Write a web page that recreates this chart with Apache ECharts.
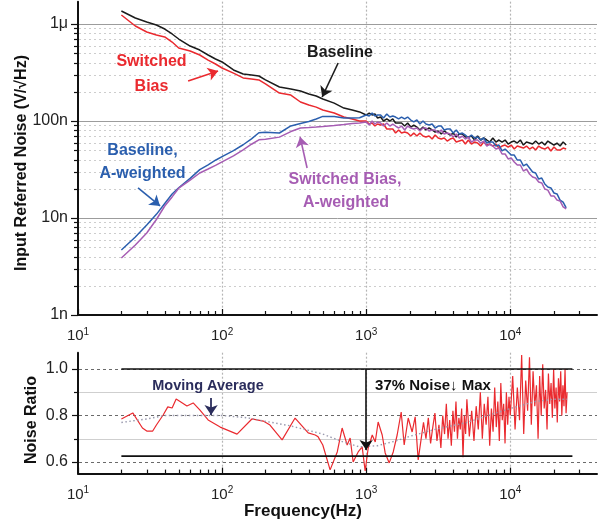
<!DOCTYPE html>
<html><head><meta charset="utf-8">
<script src="https://cdn.jsdelivr.net/npm/echarts@6/dist/echarts.min.js"></script>
<style>html,body{margin:0;padding:0;background:#fff}#c{width:602px;height:521px}</style>
</head><body><div id="c"></div>
<script>
// ---------- DATA ----------
// Top panel: frequency (Hz) and input-referred noise (nV/√Hz)
const freqTop = [20,25,30,35,40,45,50,60,70,80,90,100,120,140,160,180,200,250,300,350,400,450,500,600,700,800,900,
  1000,1050,1100,1150,1200,1260,1320,1390,1460,1530,1600,1680,1760,1850,1940,2040,2140,2250,2360,2480,2600,2730,2870,3010,
  3160,3320,3480,3650,3830,4020,4220,4430,4650,4880,5120,5380,5650,5930,6230,6540,6870,7210,7570,7950,8350,8770,9210,9670,
  10150,10660,11190,11750,12340,12960,13610,14290,15000,15750,16540,17370,18240,19150,20110,21110,22170,23280,24440];
const baseline = [1362,1153,1048,977,888,789,700,593,539,479,436,406,336,305,298,291,265,224,214,204,190,181,168.5,153,136,129.8,124,
  115.3,120.9,115.3,118.1,107.4,109.9,100,104.9,100,104.9,95.4,95.4,95.4,88.8,95.4,86.7,90.9,86.7,80.8,86.7,
  80.8,84.7,80.8,77.0,78.9,73.4,78.9,75.2,71.7,75.2,68.4,73.4,73.4,68.4,68.4,70.0,63.7,70.0,63.7,66.8,
  63.7,60.7,66.8,60.7,63.7,60.7,63.7,57.9,60.7,62.2,59.3,63.7,56.5,60.7,59.3,57.9,62.2,57.9,60.7,56.5,
  62.2,59.3,56.5,59.3,55.2,60.7,56.5];
const switchedBias = [1238,954,827,770,735,652,566,527,479,425,387,352,312,278,271,265,241,194,185,157,146,139,130,121,110,105,100,
  100,93.1,95.4,88.8,93.1,90.9,93.1,82.7,82.7,82.7,75.2,80.8,75.2,77.0,75.2,70.0,75.2,70.0,75.2,70.0,
  68.4,70.0,65.2,71.7,66.8,65.2,66.8,62.2,65.2,66.8,60.7,62.2,63.7,57.9,63.7,57.9,60.7,59.3,55.2,60.7,
  56.5,57.9,55.2,57.9,52.6,55.2,56.5,53.9,56.5,51.4,55.2,53.9,52.6,55.2,51.4,53.9,50.2,55.2,52.6,51.4,
  53.9,49.0,53.9,50.2,50.2,52.6,51.4];
const baselineAW = [4.68,6.37,8.47,10.9,14.1,17.7,20.5,25.6,31.5,35.3,39.4,43.0,49.6,56.9,65.5,75.6,76.5,75.2,89.0,94.2,98.8,105,111.5,111,107.4,107.4,108,
  115.3,112.6,120.9,112.6,115.3,115.3,107.4,118.1,109.9,112.6,109.9,104.9,109.9,104.9,109.9,102.4,97.7,102.4,93.1,100,
  93.1,90.9,93.1,84.7,88.8,88.8,80.8,82.7,82.7,75.2,80.8,73.4,75.2,71.7,66.8,71.7,66.8,68.4,63.7,66.8,
  59.3,60.7,60.7,55.2,56.5,49.1,51.4,47.9,44.6,44.6,39.6,39.6,34.4,36.0,32.8,29.8,29.1,25.2,25.8,22.4,
  20.9,20.4,18.1,17.7,15.3,14.6,12.7];
const switchedBiasAW = [3.87,5.27,7.0,9.65,13.3,16.5,20.3,24.6,29.1,32.0,34.9,37.9,43.7,50.4,57.6,64.0,64.9,68.2,77.8,84.7,85.7,86.7,87.7,89.8,92.0,94.0,95.4,
  97.7,90.9,100,93.1,97.7,95.4,88.8,95.4,88.8,93.1,88.8,84.7,88.8,80.8,88.8,84.7,82.7,84.7,78.9,84.7,
  84.7,78.9,80.8,80.8,75.2,80.8,73.4,75.2,73.4,68.4,73.4,66.8,70.0,65.2,68.4,60.7,63.7,63.7,59.3,62.2,
  55.2,57.9,55.2,51.4,52.6,45.7,45.7,40.6,41.5,37.8,35.2,35.2,30.5,32.0,28.4,26.5,25.8,23.5,23.0,19.9,
  19.4,16.9,16.9,15.3,15.0,13.0,12.4];

// Bottom panel: noise ratio (switched / baseline)
const freqRatio = [20,24,28,30,33,35,39,42,45,48,53,57,63,70,80,97,127,161,193,215,261,321,396,443,464,500,562,630,681,738,
  774,812,880,938,984,1033,1102,1156,1211,1292,1355,1445,1541,1641,1750,1836,1958,2085,2188,2296,
  2500,2600,2700,2800,2900,3000,3100,3200,3300,3400,3500,3600,3700,3800,3900,4000,4100,4200,4300,4400,4500,4600,4700,4800,4900,
  5000,5200,5400,5600,5800,6000,6200,6400,6600,6800,7000,7200,7400,7600,7800,8000,8200,8400,8600,8800,9000,9200,9400,9600,9800,
  10000,10400,10800,11200,11600,12000,12400,12800,13200,13600,14000,14400,14800,15200,15600,16000,16400,16800,17200,17600,
  18000,18400,18800,19200,19600,20000,20400,20800,21200,21600,22000,22400,22800,23200,23600,24000,24400,24800];
const noiseRatio = [.785,.811,.746,.733,.733,.759,.802,.837,.832,.871,.854,.841,.854,.824,.781,.75,.72,.785,.776,.759,
  .695,.789,.725,.716,.708,.673,.566,.643,.746,.673,.703,.60,.643,.665,.561,.66,.716,.686,.772,.716,
  .639,.596,.643,.716,.815,.673,.789,.729,.794,.609,
  .77,.70,.79,.68,.75,.81,.69,.76,.66,.80,.72,.85,.70,.78,.67,.82,.73,.86,.70,.79,.74,.83,.62,.80,.72,
  .87,.71,.82,.69,.84,.74,.90,.70,.85,.76,.88,.67,.83,.73,.92,.75,.86,.69,.94,.78,.85,.68,.90,.76,.88,
  .80,.97,.74,.92,.78,1.06,.72,.95,.82,1.05,.76,.99,.84,.93,.70,.97,.80,1.02,.83,.91,
  .74,.98,.85,.94,.79,1.00,.83,.92,.77,.96,.86,.99,.80,.93,.84,1.00,.81,.90];
const maFreq = [20,30,40,60,100,150,200,300,500,700,900,1200,1600,2000,3000,5000,7000,10000,15000,20000,24800];
const movingAverage = [.77,.785,.80,.80,.80,.79,.775,.755,.72,.685,.665,.67,.69,.71,.74,.77,.80,.83,.86,.87,.87];
const refLevels = [1.0, 0.625];
const refSpan = [20, 27000];

// Tick labels
const xTickValues = [10, 100, 1000, 10000];
const yTopTickValues = [1, 10, 100, 1000];
const yTopTickText = ['1n', '10n', '100n', '1μ'];
const yBotTickValues = [0.6, 0.8, 1.0];
const yBotTickText = ['0.6', '0.8', '1.0'];

// ---------- CHART ----------
const FONT = '"Liberation Sans", Arial, Helvetica, sans-serif';
const C_BLACK = '#1b1b1b', C_RED = '#ea2a2f', C_BLUE = '#2b5fae', C_PURPLE = '#a65db3', C_NAVY = '#2b2d5c';
const pair = (xs, ys) => xs.map((x, i) => [x, ys[i]]);
const near = (a, b) => Math.abs(a - b) <= 1e-6 * Math.max(1, Math.abs(b));

const chart = echarts.init(document.getElementById('c'), null, { renderer: 'canvas' });

const xLabelFmt = v => {
  const k = xTickValues.findIndex(t => near(v, t));
  return k < 0 ? '' : '{b|10}{s|' + Math.round(Math.log10(xTickValues[k])) + '}';
};
const xLabelRich = {
  b: { fontSize: 15, fontFamily: FONT, color: '#222', lineHeight: 18 },
  s: { fontSize: 10, fontFamily: FONT, color: '#222', verticalAlign: 'top', lineHeight: 12 }
};

function xAxisCfg(gridIndex) {
  return {
    type: 'log', logBase: 10, gridIndex, min: 10, max: 40000,
    axisLine: { show: true, lineStyle: { color: '#111', width: 2 } },
    axisTick: { show: true, inside: true, length: 6, lineStyle: { color: '#111', width: 1.2 } },
    axisLabel: { formatter: xLabelFmt, rich: xLabelRich, margin: 12, showMaxLabel: false },
    splitLine: { show: true, showMinLine: false, showMaxLine: false, lineStyle: { color: '#b5b5b5', type: [2, 2], width: 1.2 } },
    minorTick: { show: false }
  };
}

// minor decade positions (axis decoration)
const mant = [2, 3, 4, 5, 6, 7, 8, 9];
const yTopMinor = [];
[1, 10, 100].forEach(d => mant.forEach(m => yTopMinor.push(d * m)));
const xMinor = [];
[10, 100, 1000, 10000].forEach(d => mant.forEach(m => { if (d * m < 40000) xMinor.push(d * m); }));

function hDecor(xAxisIndex, yAxisIndex, xAnchor, items) {
  return {
    type: 'custom', xAxisIndex, yAxisIndex, silent: true, clip: false, z: 1,
    data: items.map(it => [xAnchor, it.v]),
    renderItem: (params, api) => {
      const it = items[params.dataIndex];
      const cs = params.coordSys;
      const y = Math.round(api.coord([xAnchor, it.v])[1]) + 0.5;
      const ch = [];
      if (it.grid) ch.push({ type: 'line', shape: { x1: cs.x + 1, y1: y, x2: cs.x + cs.width, y2: y },
        style: { stroke: it.grid.stroke, lineWidth: 1, lineDash: it.grid.dash || null } });
      if (it.tick) ch.push({ type: 'line', shape: { x1: cs.x - it.tick, y1: y, x2: cs.x, y2: y },
        style: { stroke: '#111', lineWidth: 1.2 } });
      return { type: 'group', children: ch };
    }
  };
}
function vTicks(xAxisIndex, yAxisIndex, yAnchor, values, len) {
  return {
    type: 'custom', xAxisIndex, yAxisIndex, silent: true, clip: false, z: 5,
    data: values.map(v => [v, yAnchor]),
    renderItem: (params, api) => {
      const cs = params.coordSys;
      const x = Math.round(api.coord([api.value(0), yAnchor])[0]) + 0.5;
      const yb = cs.y + cs.height;
      return { type: 'line', shape: { x1: x, y1: yb, x2: x, y2: yb - len }, style: { stroke: '#111', lineWidth: 1.2 } };
    }
  };
}

function arrow(p1, p2, color, width) {
  return [
    { coord: p1, symbol: 'none', lineStyle: { color, width: width || 1.6, type: 'solid' }, itemStyle: { color } },
    { coord: p2, symbol: 'arrow', symbolSize: 10 }
  ];
}

const lineSeries = (name, data, color, xi, yi, extra) => Object.assign({
  type: 'line', name, data, xAxisIndex: xi, yAxisIndex: yi, showSymbol: false, symbol: 'none',
  lineStyle: { color, width: 1.5 }, itemStyle: { color }, silent: true, z: 3, animation: false
}, extra || {});

const topY = {
  type: 'log', logBase: 10, gridIndex: 0, min: 1, max: 1700,
  axisLine: { show: true, lineStyle: { color: '#111', width: 2 } },
  axisTick: { show: true, inside: false, length: 7, lineStyle: { color: '#111', width: 1.2 } },
  axisLabel: { fontSize: 16, fontFamily: FONT, color: '#222', margin: 10, showMaxLabel: false,
    formatter: v => { const k = yTopTickValues.findIndex(t => near(v, t)); return k < 0 ? '' : yTopTickText[k]; } },
  splitLine: { show: true, showMinLine: false, showMaxLine: false, lineStyle: { color: '#9c9c9c', width: 1 } }
};
const botY = {
  type: 'value', gridIndex: 1, min: 0.55, max: 1.07, interval: 0.05,
  axisLine: { show: true, lineStyle: { color: '#111', width: 2 } },
  axisTick: { show: false },
  axisLabel: { fontSize: 16, fontFamily: FONT, color: '#222', margin: 10, showMaxLabel: false, showMinLabel: false,
    formatter: v => { const k = yBotTickValues.findIndex(t => near(v, t)); return k < 0 ? '' : yBotTickText[k]; } },
  splitLine: { show: false }
};

const botGridItems = [
  { v: 0.6, tick: 6, grid: { stroke: '#6a6a6a', dash: [3, 3] } },
  { v: 0.7, tick: 4, grid: { stroke: '#cfcfcf' } },
  { v: 0.8, tick: 6, grid: { stroke: '#6a6a6a', dash: [3, 3] } },
  { v: 0.9, tick: 4, grid: { stroke: '#cfcfcf' } },
  { v: 1.0, tick: 6, grid: { stroke: '#6a6a6a', dash: [3, 3] } }
];

const option = {
  animation: false,
  backgroundColor: '#fff',
  textStyle: { fontFamily: FONT },
  grid: [
    { left: 78, top: 1.65, width: 519, height: 313.35, containLabel: false },
    { left: 78, top: 352.7, width: 519, height: 120.9, containLabel: false }
  ],
  xAxis: [xAxisCfg(0), xAxisCfg(1)],
  yAxis: [topY, botY],
  series: [
    hDecor(0, 0, 10, yTopMinor.map(v => ({ v, tick: 4, grid: { stroke: '#cdcdcd', dash: [2, 3] } }))),
    vTicks(0, 0, 1, xMinor, 4),
    hDecor(1, 1, 10, botGridItems),
    vTicks(1, 1, 0.55, xMinor, 4),
    lineSeries('Baseline', pair(freqTop, baseline), C_BLACK, 0, 0, {
      markLine: { silent: true, animation: false, label: { show: false }, emphasis: { disabled: true },
        data: [
          arrow([58.1, 258], [93.8, 328], C_RED),
          arrow([639, 396], [495, 176.8], C_BLACK),
          arrow([26.1, 20.4], [37.1, 13.3], C_BLUE),
          arrow([389, 32.8], [348, 68.4], C_PURPLE)
        ] }
    }),
    lineSeries('Switched Bias', pair(freqTop, switchedBias), C_RED, 0, 0),
    lineSeries('Baseline, A-weighted', pair(freqTop, baselineAW), C_BLUE, 0, 0),
    lineSeries('Switched Bias, A-weighted', pair(freqTop, switchedBiasAW), C_PURPLE, 0, 0),
    lineSeries('Noise Ratio', pair(freqRatio, noiseRatio), C_RED, 1, 1, { lineStyle: { color: C_RED, width: 1.2 } }),
    lineSeries('Moving Average', pair(maFreq, movingAverage), '#9a9aae', 1, 1, {
      lineStyle: { color: '#9a9aae', width: 1.4, type: [1.5, 2.5] }, z: 4 }),
    ...refLevels.map((lv, k) => lineSeries('ref' + k, refSpan.map(f => [f, lv]), '#111', 1, 1, {
      lineStyle: { color: '#111', width: 1.6 }, z: 4,
      markLine: k === 0 ? { silent: true, animation: false, label: { show: false }, emphasis: { disabled: true },
        data: [
          arrow([1000, 1.0], [1000, 0.652], '#111', 1.6),
          arrow([83.9, 0.875], [83.9, 0.802], C_NAVY, 1.8)
        ] } : undefined
    }))
  ],
  graphic: [
    { type: 'text', x: 22, y: 163, rotation: Math.PI / 2, silent: true,
      style: { text: 'Input Referred Noise (V/√Hz)', fill: '#111', font: 'bold 16px ' + FONT,
        align: 'center', verticalAlign: 'middle', textAlign: 'center', textVerticalAlign: 'middle' } },
    { type: 'text', x: 32, y: 420, rotation: Math.PI / 2, silent: true,
      style: { text: 'Noise Ratio', fill: '#111', font: 'bold 16px ' + FONT,
        align: 'center', verticalAlign: 'middle', textAlign: 'center', textVerticalAlign: 'middle' } },
    { type: 'text', x: 303, y: 511, silent: true,
      style: { text: 'Frequency(Hz)', fill: '#111', font: 'bold 17px ' + FONT,
        align: 'center', verticalAlign: 'middle', textAlign: 'center', textVerticalAlign: 'middle' } },
    ...[
      ['Switched', 151.5, 62, C_RED, 16], ['Bias', 151.5, 87, C_RED, 16],
      ['Baseline', 340, 53, C_BLACK, 16],
      ['Baseline,', 142.5, 151, C_BLUE, 16], ['A-weighted', 142.5, 174, C_BLUE, 16],
      ['Switched Bias,', 345, 180, C_PURPLE, 16], ['A-weighted', 346, 203, C_PURPLE, 16],
      ['Moving Average', 208, 386, C_NAVY, 14.5],
      ['37% Noise↓ Max', 433, 386, '#111', 15]
    ].map(([t, x, y, c, fs]) => ({ type: 'text', x, y, silent: true, z: 10,
      style: { text: t, fill: c, font: 'bold ' + fs + 'px ' + FONT,
        align: 'center', verticalAlign: 'middle', textAlign: 'center', textVerticalAlign: 'middle' } }))
  ]
};
chart.setOption(option);
</script>
</body></html>
